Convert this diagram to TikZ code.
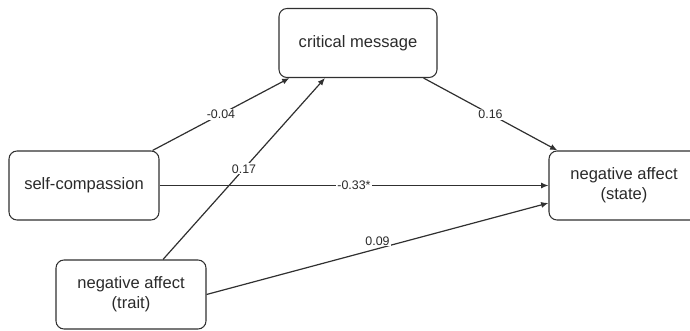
\documentclass[tikz,border=0pt]{standalone}
\usepackage{fontspec}
\setmainfont{Liberation Sans}
\usetikzlibrary{arrows.meta,calc}

\definecolor{linegray}{HTML}{303030}
\definecolor{textgray}{HTML}{2A2A2A}

\tikzset{
	varbox/.style={draw=linegray,line width=0.8pt,rounded corners=6pt,
		minimum width=112.5pt,minimum height=51.75pt,align=center,
		text=textgray,font=\fontsize{12.4}{15}\selectfont},
	path/.style={draw=linegray,line width=0.9pt,-{Latex[length=5.5pt,width=4.5pt]}},
	coef/.style={fill=white,inner sep=1pt,text=textgray,font=\fontsize{9.3}{11}\selectfont}
}

\begin{document}
\begin{tikzpicture}[x=0.75pt,y=-0.75pt]
				\useasboundingbox (0,0) rectangle (690,331);
				\node[varbox,minimum width=118.5pt] (cm) at (358,43) {critical message};
				\node[varbox] (sc) at (84,185.5) {self-compassion};
				\node[varbox] (nt) at (131,294.5) {negative affect\\(trait)};
				\node[varbox] (ns) at (624,185.5) {negative affect\\(state)};
				\draw[path] ($(sc.north east)+(-7,0)$) -- node[coef]{-0.04} ($(cm.south west)+(11,0)$);
				\draw[path] ($(nt.north)+(32,0)$) -- node[coef]{0.17} ($(cm.south)+(-33,0)$);
				\draw[path] ($(cm.south east)+(-14,0)$) -- node[coef]{0.16} ($(ns.north west)+(9,0)$);
				\draw[path] (sc.east) -- node[coef]{-0.33*} (ns.west);
				\draw[path] (nt.east) -- node[coef,yshift=6pt]{0.09} ($(ns.west)+(0,17.5)$);
			\end{tikzpicture}
\end{document}
